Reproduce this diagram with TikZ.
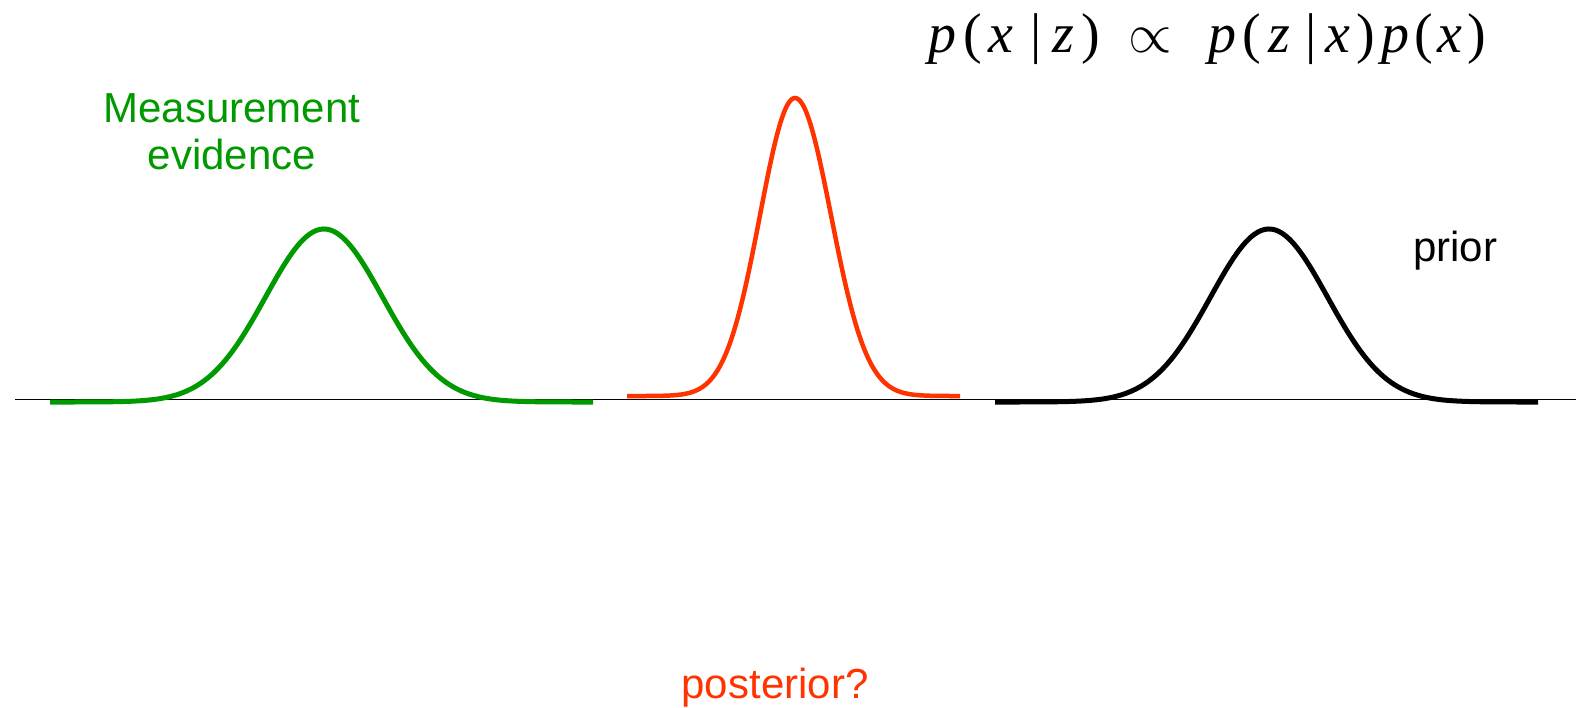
\RequirePackage{fix-cm}
\documentclass[tikz,border=0pt]{standalone}
\usepackage{fontspec}
\setmainfont{Liberation Sans}
\newfontfamily\serifeq{Liberation Serif}
\definecolor{mgreen}{HTML}{009900}
\definecolor{mred}{HTML}{FF3300}
\tikzset{
  curve/.style={line width=5pt, line join=round},
  lbl/.style={font=\fontsize{42}{47}\selectfont, inner sep=0pt, anchor=base},
}
\newcommand{\ip}[1]{\textit{#1}}
\begin{document}
\begin{tikzpicture}[x=1pt,y=-1pt]
\useasboundingbox (0,0) rectangle (1576,707);
% axis
\coordinate (axl) at (15,399.5);
\coordinate (axr) at (1576,399.5);
\draw[line width=1.5pt] (axl) -- (axr);
% measurement (green)
\draw[curve, mgreen] plot[domain=50:593, samples=160, smooth]
  (\x, {402-173*exp(-0.5*((\x-324)/58.5)^2)});
% posterior (red)
\draw[curve, mred, line width=4.5pt] plot[domain=627:960, samples=160, smooth]
  (\x, {396-298*exp(-0.5*((\x-795)/(\x<795 ? 35 : 36))^2)});
% prior (black)
\draw[curve, black] plot[domain=995:1538, samples=160, smooth]
  (\x, {402-173*exp(-0.5*((\x-1269)/58.5)^2)});
% labels
\node[lbl, mgreen, align=center] (meas) at (232,169) {Measurement\\evidence};
\node[lbl] (prior) at (1455,261) {prior};
\node[lbl, mred] (post) at (775,698) {posterior?};
\node[inner sep=0pt, anchor=base west, font=\fontsize{56}{62}\selectfont\serifeq] (eq) at (928,52)
  {\ip{p}\hspace{7pt}(\hspace{7pt}\ip{x}\hspace{17pt}|\hspace{11pt}\ip{z}\hspace{7pt})\hspace{28pt}$\propto$\hspace{37pt}\ip{p}\hspace{6pt}(\hspace{7pt}\ip{z}\hspace{15pt}|\hspace{9pt}\ip{x}\hspace{6pt})\hspace{6pt}\ip{p}\hspace{5pt}(\hspace{5pt}\ip{x}\hspace{5pt})};
\end{tikzpicture}
\end{document}
